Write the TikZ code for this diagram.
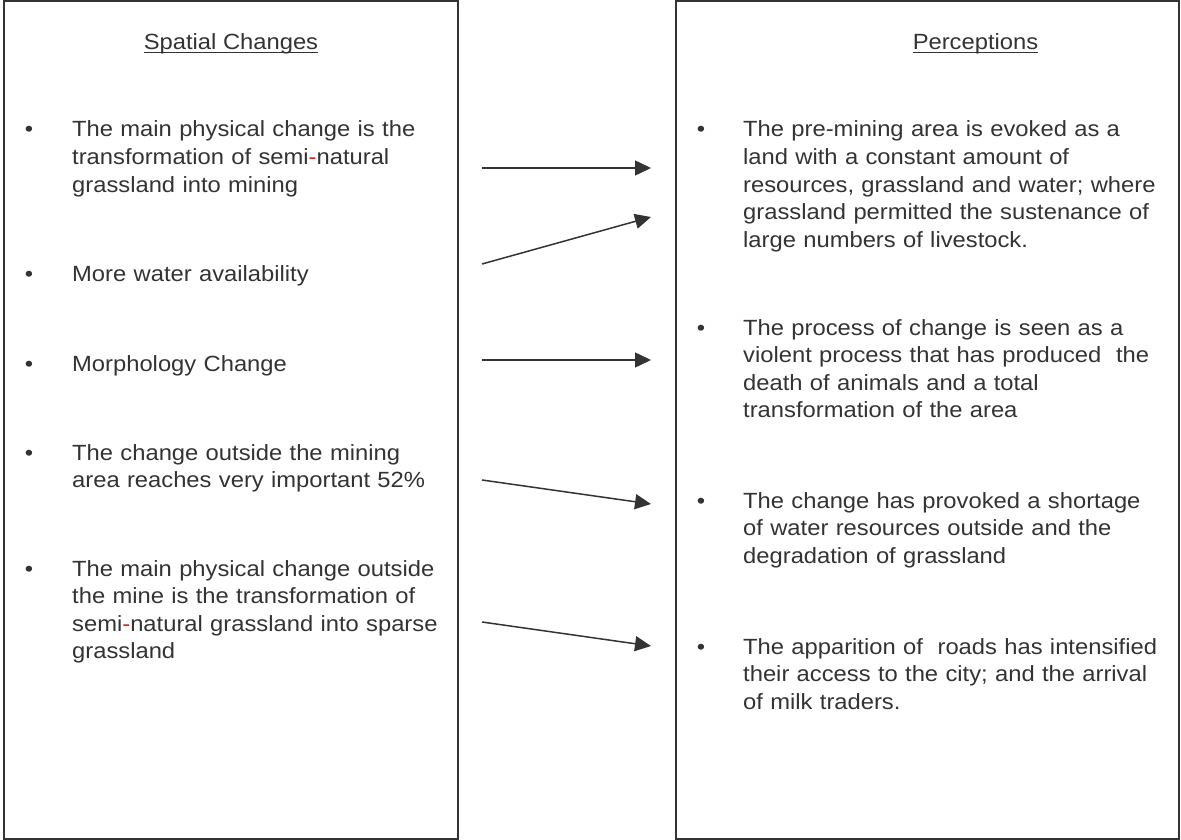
\documentclass[tikz,border=0pt]{standalone}
\usepackage{fontspec}
\setmainfont[FakeStretch=1.08]{Liberation Sans}
\usetikzlibrary{arrows.meta}
\definecolor{ink}{HTML}{333333}
\definecolor{hyph}{HTML}{E02020}
\newcommand{\rh}{{\color{hyph}-}}
\begin{document}
\begin{tikzpicture}[x=1pt,y=-1pt,
  panel/.style={draw=ink,line width=2pt},
  txt/.style={anchor=base west,inner sep=0pt,text width=420pt,align=left,text=ink,
    font=\fontsize{22}{27.6}\selectfont},
  ttl/.style={anchor=base,inner sep=0pt,text=ink,font=\fontsize{22}{27.6}\selectfont},
  bul/.style={anchor=base,inner sep=0pt,text=ink,font=\fontsize{22}{27.6}\selectfont},
  conn/.style={draw=ink,line width=1.5pt,-{Triangle[length=16pt,width=15pt]}},
  uline/.style={draw=ink,line width=1.4pt}]
\useasboundingbox (0,0) rectangle (1181,840);
% panels
\draw[panel] (3.5,1.5) rectangle (458,838.5);
\draw[panel] (675.5,1.5) rectangle (1178.5,838.5);
% titles
\node[ttl] (tl) at (231,50) {Spatial Changes};
\node[ttl] (tr) at (975.5,50) {Perceptions};
\draw[uline] ([yshift=-2.5pt]tl.base west) -- ([yshift=-2.5pt]tl.base east);
\draw[uline] ([yshift=-2.5pt]tr.base west) -- ([yshift=-2.5pt]tr.base east);
% left items
\node[bul] (bl1) at (29,137) {•};
\node[txt] (l1) at (72,137) {The main physical change is the\\transformation of semi\rh natural\\grassland into mining};
\node[bul] (bl2) at (29,281) {•};
\node[txt] (l2) at (72,281) {More water availability};
\node[bul] (bl3) at (29,371) {•};
\node[txt] (l3) at (72,371) {Morphology Change};
\node[bul] (bl4) at (29,460) {•};
\node[txt] (l4) at (72,460) {The change outside the mining\\area reaches very important 52\%};
\node[bul] (bl5) at (29,576) {•};
\node[txt] (l5) at (72,576) {The main physical change outside\\the mine is the transformation of\\semi\rh natural grassland into sparse\\grassland};
% right items
\node[bul] (br1) at (701,137) {•};
\node[txt] (r1) at (743,137) {The pre-mining area is evoked as a\\land with a constant amount of\\resources, grassland and water; where\\grassland permitted the sustenance of\\large numbers of livestock.};
\node[bul] (br2) at (701,335) {•};
\node[txt] (r2) at (743,335) {The process of change is seen as a\\violent process that has produced~ the\\death of animals and a total\\transformation of the area};
\node[bul] (br3) at (701,508) {•};
\node[txt] (r3) at (743,508) {The change has provoked a shortage\\of water resources outside and the\\degradation of grassland};
\node[bul] (br4) at (701,654) {•};
\node[txt] (r4) at (743,654) {The apparition of~ roads has intensified\\their access to the city; and the arrival\\of milk traders.};
% connectors
\coordinate (s1) at (482,168); \coordinate (e1) at (651,168);
\coordinate (s2) at (482,264); \coordinate (e2) at (651,217);
\coordinate (s3) at (482,360); \coordinate (e3) at (651,360);
\coordinate (s4) at (482,480); \coordinate (e4) at (651,504);
\coordinate (s5) at (482,622); \coordinate (e5) at (651,646);
\draw[conn] (s1) -- (e1);
\draw[conn] (s2) -- (e2);
\draw[conn] (s3) -- (e3);
\draw[conn] (s4) -- (e4);
\draw[conn] (s5) -- (e5);
\end{tikzpicture}
\end{document}
